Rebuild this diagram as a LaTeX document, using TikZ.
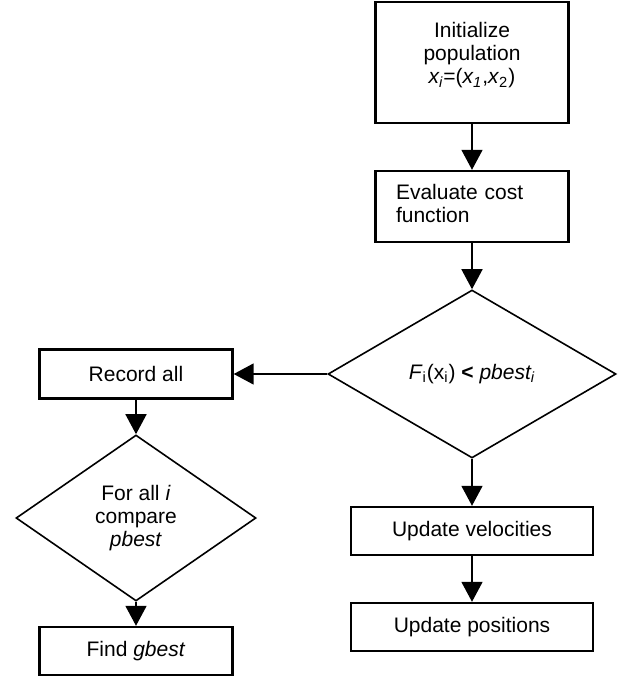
\documentclass[tikz,border=0pt]{standalone}
\usepackage{fontspec}
\setmainfont{Liberation Sans}
\usetikzlibrary{positioning, arrows.meta, shapes.geometric}

\begin{document}
\begin{tikzpicture}[
        x=0.5pt, y=-0.5pt,
        >={Triangle[length=10pt, width=10.5pt]},
        font=\fontsize{10.5}{11.6}\selectfont,
        block/.style={draw, line width=1.2pt, rectangle, minimum width=96.5pt, inner sep=0pt, align=center},
        decision/.style={draw, line width=0.8pt, diamond, inner sep=0pt, align=center},
        line/.style={->, line width=0.8pt},
    ]

    \useasboundingbox (0,0) rectangle (617,679);

    % Draw the main column on the right
    \node[block, minimum height=60.5pt, text depth=9.5pt] (init) at (472,62.5)
        {Initialize\\population\\\textit{x\textsubscript{i}}=(\textit{x\textsubscript{1}},\textit{x}\textsubscript{2})};
    \node[block, minimum height=35.5pt, text width=76pt, align=left, text depth=15pt] (eval) at (472,206.5)
        {Evaluate cost\\function};
    \node[decision, minimum width=144pt, minimum height=84pt] (test) at (472,374)
        {\textit{F}\textsubscript{i}(x\textsubscript{i}) \textbf{<} \textit{pbest\textsubscript{i}}};
    \node[block, minimum width=121pt, minimum height=24pt] (vel) at (472,531) {Update velocities};
    \node[block, minimum width=121pt, minimum height=24pt] (pos) at (472,627) {Update positions};

    % Draw the left column
    \node[block, minimum height=24.5pt] (record) at (136,374) {Record all};
    \node[decision, minimum width=120pt, minimum height=83pt] (compare) at (136,518)
        {For all \textit{i}\\compare\\\textit{pbest}};
    \node[block, minimum height=24pt] (find) at (136,651) {Find \textit{gbest}};

    % Connect the steps
    \foreach \source/\dest in {init/eval, eval/test, test/vel, vel/pos, record/compare, compare/find}
        \draw[line] (\source.south) -- (\dest.north);
    \draw[line] (test.west) -- (record.east);
\end{tikzpicture}
\end{document}
